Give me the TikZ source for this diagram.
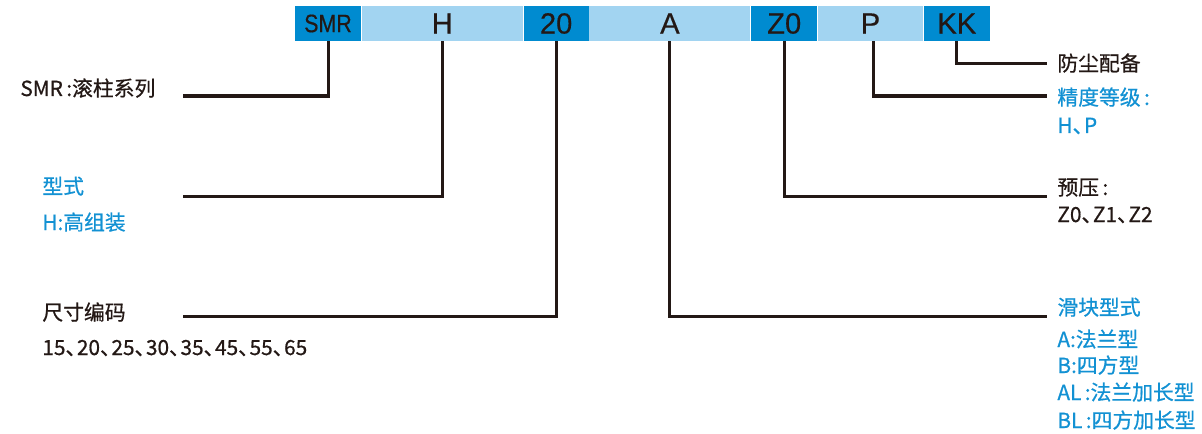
\documentclass[tikz,border=0pt]{standalone}
\usepackage{graphicx}
\usepackage{fontspec}
\setmainfont{Noto Sans CJK SC}[FakeBold=0.7]
\newfontfamily\barfont{Liberation Sans}[FakeBold=0.4]
\usetikzlibrary{positioning}

\definecolor{codedark}{RGB}{0,139,208}
\definecolor{codelight}{RGB}{162,212,241}
\definecolor{txtblue}{RGB}{18,145,211}
\definecolor{txtblack}{RGB}{35,24,21}

% narrow enumeration comma
\newcommand{\dun}{\makebox[0.55em][l]{、}}

\tikzset{
    seg/.style={rectangle, inner sep=0pt, minimum height=17.5pt, text=txtblack,
        font=\barfont\fontsize{14.6}{16}\selectfont},
    darkseg/.style={seg, fill=codedark},
    lightseg/.style={seg, fill=codelight},
    conn/.style={line width=1.5pt, draw=txtblack},
    lbl/.style={anchor=base west, inner sep=0pt, text=txtblack,
        font=\fontsize{10.4}{12}\selectfont},
    bluelbl/.style={lbl, text=txtblue},
}

\begin{document}
\begin{tikzpicture}[x=0.5pt,y=-0.5pt]
        \useasboundingbox (0,0) rectangle (1202,433);

        %the code bar
        \node[darkseg, minimum width=33pt] (smr) at (328,23.5) {\fontsize{12.6}{14}\selectfont\scalebox{0.85}[1]{SMR}};
        \node[lightseg, minimum width=80.5pt, right=0pt of smr] (h) {H};
        \node[darkseg, minimum width=32.5pt, right=0pt of h] (size) {20};
        \node[lightseg, minimum width=80.5pt, right=0pt of size] (a) {A};
        \node[darkseg, minimum width=33pt, right=0pt of a] (z) {Z0};
        \node[lightseg, minimum width=52.5pt, right=0pt of z] (p) {P};
        \node[darkseg, minimum width=33pt, right=0pt of p] (kk) {KK};

        %left labels
        \node[lbl] (smrtxt) at (20,96) {SMR\,:滚柱系列};
        \node[bluelbl] (htxt) at (42,194) {型式};
        \node[bluelbl] (hval) at (42,230) {H:高组装};
        \node[lbl] (sizetxt) at (42,320) {尺寸编码};
        \node[lbl] (sizeval) at (42,355) {15\dun 20\dun 25\dun 30\dun 35\dun 45\dun 55\dun 65};

        %right labels
        \node[lbl] (kktxt) at (1057,71) {防尘配备};
        \node[bluelbl] (ptxt) at (1057,105) {精度等级\,:};
        \node[bluelbl] (pval) at (1057,133) {H\dun P};
        \node[lbl] (ztxt) at (1057,195) {预压\,:};
        \node[lbl] (zval) at (1057,222) {Z0\dun Z1\dun Z2};
        \node[bluelbl] (atxt) at (1057,315) {滑块型式};
        \node[bluelbl] (aval1) at (1057,347) {A:法兰型};
        \node[bluelbl] (aval2) at (1057,373) {B:四方型};
        \node[bluelbl] (aval3) at (1057,400) {AL\,:法兰加长型};
        \node[bluelbl] (aval4) at (1057,428) {BL\,:四方加长型};

        %line ends
        \coordinate (smrend) at (183,96);
        \coordinate (hend) at (183,196.5);
        \coordinate (sizeend) at (183,316);
        \coordinate (aend) at (1047,316);
        \coordinate (zend) at (1047,196.5);
        \coordinate (pend) at (1047,96);
        \coordinate (kkend) at (1047,63.5);

        %connectors
        \draw[conn] (smr.south) |- (smrend);
        \draw[conn] (h.south) |- (hend);
        \draw[conn] (size.south) |- (sizeend);
        \draw[conn] (a.south) |- (aend);
        \draw[conn] (z.south) |- (zend);
        \draw[conn] ([xshift=1.25pt]p.south) |- (pend);
        \draw[conn] (kk.south) |- (kkend);
    \end{tikzpicture}
\end{document}
